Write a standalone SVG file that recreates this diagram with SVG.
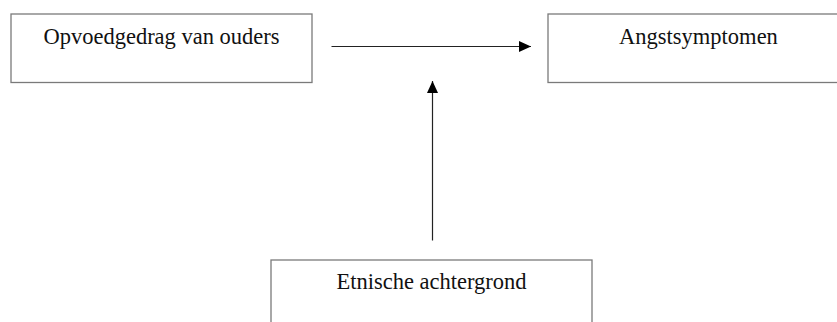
<svg xmlns="http://www.w3.org/2000/svg" width="837" height="322" viewBox="0 0 837 322">
<defs>
<style>
.box{fill:#ffffff;stroke:#7a7a7a;stroke-width:1.3}
.lbl{font-family:"Liberation Serif","Times New Roman",serif;font-size:22.5px;fill:#111111;text-anchor:middle}
.conn{stroke:#222222;stroke-width:1.2;fill:none}
</style>
<marker id="arr" viewBox="0 0 12 11" refX="12" refY="5.5" markerWidth="12" markerHeight="11" markerUnits="userSpaceOnUse" orient="auto">
<path d="M0,0 L12,5.5 L0,11 Z" fill="#000000"/>
</marker>
</defs>
<rect width="837" height="322" fill="#ffffff"/>
<g id="node-opvoedgedrag">
<rect class="box" x="11" y="14" width="301" height="68.5"/>
<text class="lbl" x="161.5" y="43.5">Opvoedgedrag van ouders</text>
</g>
<g id="node-angstsymptomen">
<rect class="box" x="548" y="14" width="301" height="68.5"/>
<text class="lbl" x="698.5" y="43.5">Angstsymptomen</text>
</g>
<g id="node-etnische">
<rect class="box" x="271" y="260" width="321" height="80"/>
<text class="lbl" x="431.5" y="288.5">Etnische achtergrond</text>
</g>
<g id="connectors">
<line class="conn" x1="331.5" y1="46.5" x2="531" y2="46.5" marker-end="url(#arr)"/>
<line class="conn" x1="432.5" y1="240.5" x2="432.5" y2="81" marker-end="url(#arr)"/>
</g>
</svg>
